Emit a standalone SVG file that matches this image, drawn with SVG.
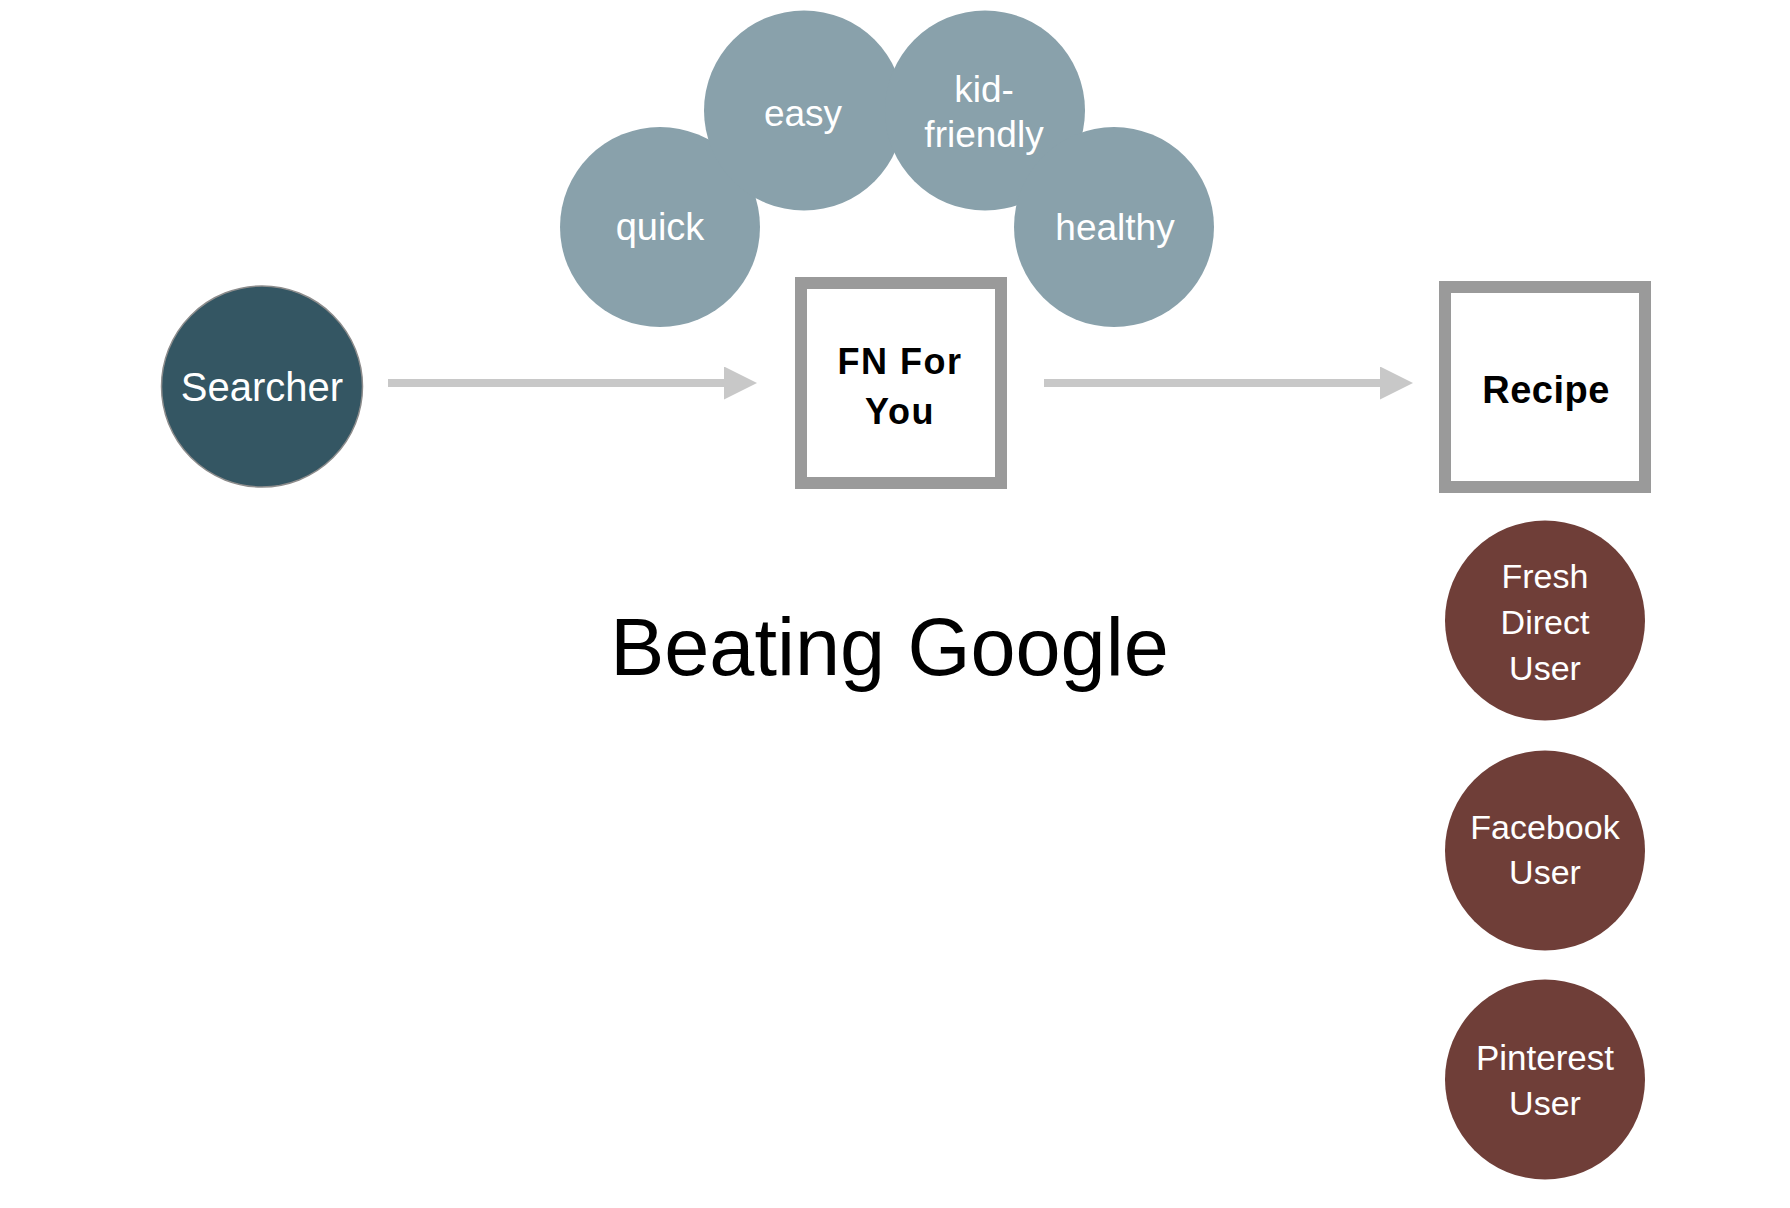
<svg xmlns="http://www.w3.org/2000/svg" width="1790" height="1208" viewBox="0 0 1790 1208">
  <style>
    .t { font-family: "Liberation Sans", Arial, Helvetica, sans-serif; text-anchor: middle; }
    .w { fill: #ffffff; }
    .tag { fill: #89a1ab; }
    .user { fill: #6f3e38; }
    .box { fill: #ffffff; stroke: #9a9a9a; stroke-width: 12; }
    .conn { stroke: #c8c8c8; stroke-width: 8; fill: none; }
    .bold { font-weight: bold; fill: #000000; }
  </style>
  <defs>
    <marker id="ah" markerUnits="userSpaceOnUse" markerWidth="34" markerHeight="34" refX="0" refY="16.5" orient="auto">
      <path d="M0,0 L33,16.5 L0,33 Z" fill="#c8c8c8"/>
    </marker>
  </defs>
  <rect width="1790" height="1208" fill="#ffffff"/>

  <g id="connectors">
    <line class="conn" x1="388" y1="383" x2="724" y2="383" marker-end="url(#ah)"/>
    <line class="conn" x1="1044" y1="383" x2="1380" y2="383" marker-end="url(#ah)"/>
  </g>

  <g id="searcher">
    <circle cx="262" cy="386.5" r="100.5" fill="#345663" stroke="#8c8c8c" stroke-width="1.5"/>
    <text class="t w" x="262" y="401" font-size="40">Searcher</text>
  </g>

  <g id="tag-quick">
    <circle class="tag" cx="660" cy="227" r="100"/>
    <text class="t w" x="660" y="240" font-size="38">quick</text>
  </g>
  <g id="tag-easy">
    <circle class="tag" cx="804" cy="110.5" r="100"/>
    <text class="t w" x="803" y="126" font-size="37">easy</text>
  </g>
  <g id="tag-kid-friendly">
    <circle class="tag" cx="985" cy="110.5" r="100"/>
    <text class="t w" x="984" y="101.5" font-size="37">kid-</text>
    <text class="t w" x="984" y="146.5" font-size="37">friendly</text>
  </g>
  <g id="tag-healthy">
    <circle class="tag" cx="1114" cy="227" r="100"/>
    <text class="t w" x="1115" y="240" font-size="37">healthy</text>
  </g>

  <g id="fn-for-you">
    <rect class="box" x="801" y="283" width="200" height="200"/>
    <text class="t bold" x="900" y="373.5" font-size="36" letter-spacing="1.5">FN For</text>
    <text class="t bold" x="900" y="423.5" font-size="36" letter-spacing="1.5">You</text>
  </g>

  <g id="recipe">
    <rect class="box" x="1445" y="287" width="200" height="200"/>
    <text class="t bold" x="1546" y="402.5" font-size="38" letter-spacing="0.5">Recipe</text>
  </g>

  <g id="title">
    <text class="t" x="889.5" y="675" font-size="81" fill="#000000">Beating Google</text>
  </g>

  <g id="fresh-direct-user">
    <circle class="user" cx="1545" cy="620.5" r="100"/>
    <text class="t w" x="1545" y="588" font-size="34">Fresh</text>
    <text class="t w" x="1545" y="634" font-size="34">Direct</text>
    <text class="t w" x="1545" y="680" font-size="34">User</text>
  </g>
  <g id="facebook-user">
    <circle class="user" cx="1545" cy="850.5" r="100"/>
    <text class="t w" x="1545" y="838.5" font-size="34">Facebook</text>
    <text class="t w" x="1545" y="883.5" font-size="34">User</text>
  </g>
  <g id="pinterest-user">
    <circle class="user" cx="1545" cy="1079.5" r="100"/>
    <text class="t w" x="1545" y="1069.5" font-size="35">Pinterest</text>
    <text class="t w" x="1545" y="1114.5" font-size="34">User</text>
  </g>
</svg>
